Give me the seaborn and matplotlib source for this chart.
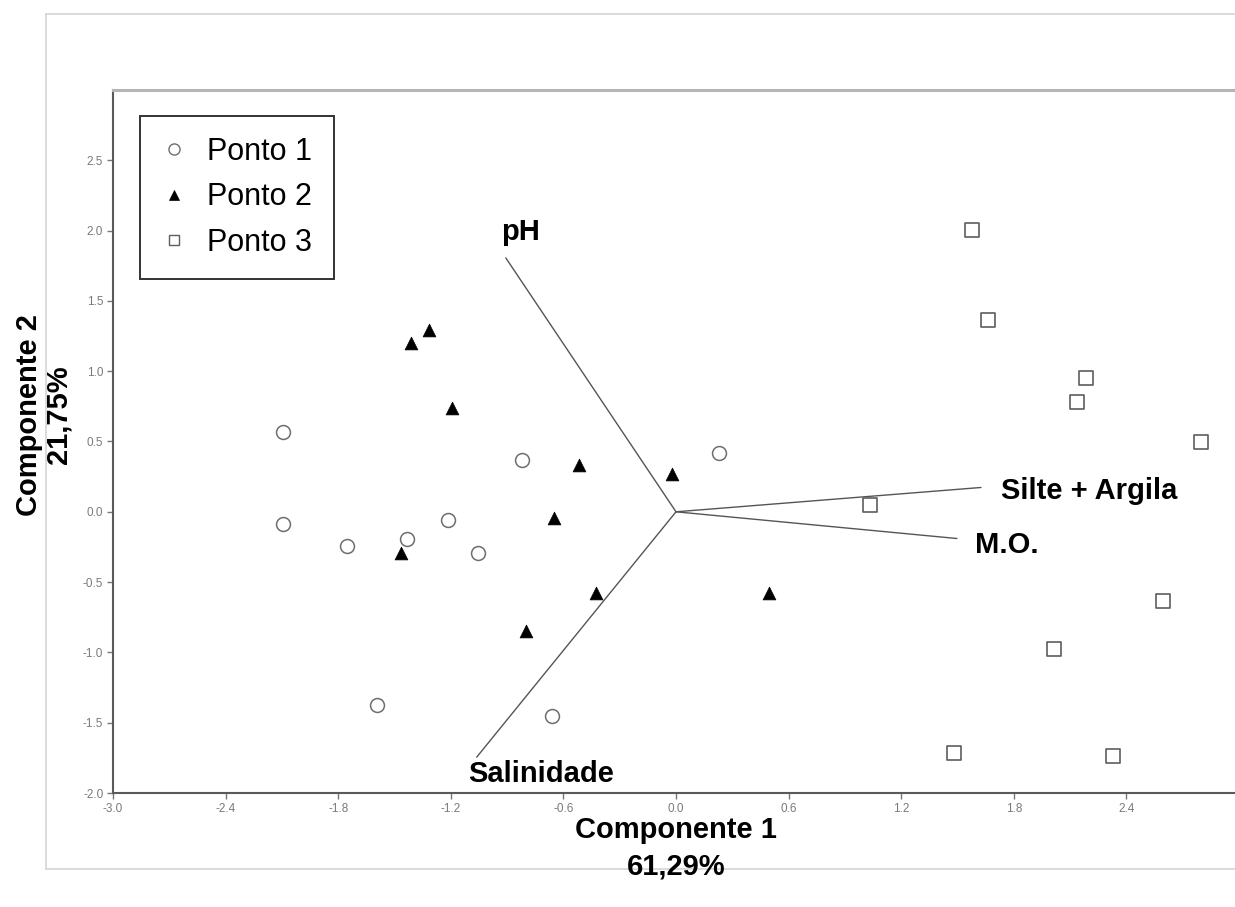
import numpy as np
import pandas as pd
import matplotlib
matplotlib.use("Agg")
import matplotlib.pyplot as plt
from matplotlib.lines import Line2D
import seaborn as sns

# PCA scores (Componente 1, Componente 2) for each sampling site
p1_x = [-2.095, -2.095, -1.751, -1.435, -1.216, -1.053, -0.819, 0.231, -1.595, -0.661]
p1_y = [0.568, -0.087, -0.241, -0.194, -0.059, -0.296, 0.367, 0.417, -1.371, -1.449]

p2_x = [-1.412, -1.314, -1.193, -0.515, -0.020, -0.650, -1.464, -0.426, -0.799, 0.495]
p2_y = [1.200, 1.290, 0.741, 0.334, 0.272, -0.045, -0.293, -0.580, -0.850, -0.577]

p3_x = [1.575, 1.661, 2.183, 2.136, 2.795, 1.033, 2.596, 2.015, 1.481, 2.330]
p3_y = [2.001, 1.362, 0.952, 0.779, 0.499, 0.048, -0.632, -0.978, -1.717, -1.735]

sites = ["Ponto 1", "Ponto 2", "Ponto 3"]

# Environmental variable loadings (biplot vectors)
var_names = ["pH", "Salinidade", "Silte + Argila", "M.O."]
var_x = [-0.907, -1.062, 1.625, 1.497]
var_y = [1.806, -1.745, 0.173, -0.190]

x_ticks = [-3.0, -2.4, -1.8, -1.2, -0.6, 0.0, 0.6, 1.2, 1.8, 2.4]
y_ticks = [-2.0, -1.5, -1.0, -0.5, 0.0, 0.5, 1.0, 1.5, 2.0, 2.5]

xlabel_text = "Componente 1\n61,29%"
ylabel_text = "Componente 2\n21,75%"

sns.set_theme(style="white")
plt.rcParams["font.family"] = ["Liberation Sans", "DejaVu Sans"]
plt.rcParams["axes.unicode_minus"] = False
plt.rcParams["text.color"] = "black"

W, H = 1235, 907
fig = plt.figure(figsize=(W / 100, H / 100), dpi=100)
fig.patch.set_facecolor("white")

# outer frame lines
frame_kw = dict(color="#d4d4d4", linewidth=1.2, transform=fig.transFigure)
fig.add_artist(Line2D([46 / W, 1.0], [1 - 14 / H, 1 - 14 / H], **frame_kw))
fig.add_artist(Line2D([46 / W, 46 / W], [1 - 14 / H, 1 - 869 / H], **frame_kw))
fig.add_artist(Line2D([46 / W, 1.0], [1 - 869 / H, 1 - 869 / H], **frame_kw))

ax = fig.add_axes([113 / W, (H - 793) / H, (1239 - 113) / W, (793 - 90) / H])
ax.set_facecolor("white")

df = pd.DataFrame({
    "c1": p1_x + p2_x + p3_x,
    "c2": p1_y + p2_y + p3_y,
    "site": [sites[0]] * len(p1_x) + [sites[1]] * len(p2_x) + [sites[2]] * len(p3_x),
})

style = {
    "Ponto 1": dict(marker="o", s=100, facecolor="white", edgecolor="#6e6e6e", linewidth=1.1),
    "Ponto 2": dict(marker="^", s=85, facecolor="black", edgecolor="black", linewidth=0.5),
    "Ponto 3": dict(marker="s", s=105, facecolor="white", edgecolor="#5e5e5e", linewidth=1.2),
}

# biplot vectors
for name, vx, vy, off in zip(var_names, var_x, var_y,
                             [(-3.6, 13.2), (-6.3, -18.0), (14.4, -8.4), (13.0, -10.1)]):
    ax.plot([0, vx], [0, vy], color="#555555", linewidth=1.0, zorder=2)
    ax.annotate(name, xy=(vx, vy), xytext=off, textcoords="offset points",
                ha="left", va="baseline", fontsize=21, fontweight="bold",
                color="black", zorder=4)

for site in sites:
    sub = df[df["site"] == site]
    st = style[site]
    sns.scatterplot(data=sub, x="c1", y="c2", ax=ax, marker=st["marker"], s=st["s"],
                    facecolor=st["facecolor"], edgecolor=st["edgecolor"],
                    linewidth=st["linewidth"], zorder=3, legend=False)

ax.set_xlim(-3.0, 3.0)
ax.set_ylim(-2.0, 3.0)
ax.set_xticks(x_ticks)
ax.set_yticks(y_ticks)
ax.set_xticklabels([f"{v:.1f}" for v in x_ticks])
ax.set_yticklabels([f"{v:.1f}" for v in y_ticks])
ax.set_xlabel("")
ax.set_ylabel("")
ax.tick_params(axis="both", which="major", direction="out", length=4, width=1.0,
               color="#777777", labelcolor="#7a7a7a", labelsize=8.5, pad=3,
               bottom=True, left=True)

for side in ["left", "bottom"]:
    ax.spines[side].set_color("#5a5a5a")
    ax.spines[side].set_linewidth(1.5)
ax.spines["top"].set_color("#b5b5b5")
ax.spines["top"].set_linewidth(2.2)
ax.spines["right"].set_visible(False)

# legend
handles = [
    Line2D([], [], linestyle="none", marker="o", markersize=8, markerfacecolor="white",
           markeredgecolor="#6e6e6e", markeredgewidth=1.0),
    Line2D([], [], linestyle="none", marker="^", markersize=7.5, markerfacecolor="black",
           markeredgecolor="black", markeredgewidth=0.5),
    Line2D([], [], linestyle="none", marker="s", markersize=7.5, markerfacecolor="white",
           markeredgecolor="#5e5e5e", markeredgewidth=1.0),
]
leg = ax.legend(handles, sites, loc="upper left",
                bbox_to_anchor=(140 / W, 1 - 115.7 / H), bbox_transform=fig.transFigure,
                borderaxespad=0, fontsize=22, frameon=True, fancybox=False,
                borderpad=0.7, handlelength=0.8, handletextpad=0.7, labelspacing=0.5)
leg.get_frame().set_edgecolor("black")
leg.get_frame().set_linewidth(1.4)
leg.get_frame().set_facecolor("white")
for t in leg.get_texts():
    t.set_color("black")

# axis titles
fig.text(676 / W, 1 - 848 / H, xlabel_text, ha="center", va="center", fontsize=21,
         fontweight="bold", linespacing=1.38, multialignment="center", color="black")
fig.text(44 / W, 1 - 415 / H, ylabel_text, ha="center", va="center", fontsize=21,
         fontweight="bold", rotation=90, linespacing=1.05, multialignment="center",
         color="black")

fig.savefig("out.png", dpi=100, facecolor="white")
